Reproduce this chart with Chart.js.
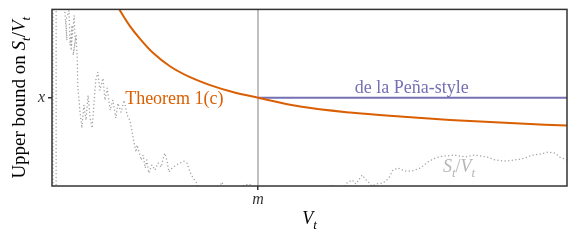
<!DOCTYPE html>
<html>
<head>
<meta charset="utf-8">
<script src="https://cdn.jsdelivr.net/npm/chart.js@4.4.0/dist/chart.umd.min.js"></script>
<style>
    html, body { margin: 0; padding: 0; background: #fff; }
</style>
</head>
<body>
<canvas id="bound-chart" width="575" height="240"></canvas>
<script>
// S_t / V_t sample path (dotted)
const walkV = [
    0.2, 0.2, 0.8, 0.8, 2.3, 2.5, 2.9, 2.7, 3.3, 3.5,
    3.9, 3.7, 4.3, 4.5, 4.1, 4.7, 4.9, 5.0, 5.4, 5.8,
    6.2, 6.6, 7.0, 7.4, 7.8, 8.2, 8.5, 8.9, 9.3, 9.9,
    10.3, 10.7, 11.3, 11.8, 12.4, 12.8, 13.4, 14.0, 14.6, 15.1,
    15.5, 15.9, 16.3, 16.5, 16.9, 17.3, 17.7, 18.1, 18.4, 18.8,
    19.4, 20.0, 20.6, 21.2, 21.6, 21.9, 22.3, 22.7, 23.3, 24.1,
    24.9, 25.6, 26.2, 26.8, 27.4, 28.0, 28.7, 31.1, 33.0, 33.8,
    34.6, 36.1, 37.3, 38.4, 39.4, 44.3, 50.1, 54.6, 55.3, 56.3,
    57.3, 58.3, 59.0, 60.2, 61.2, 62.1, 62.9, 64.3, 65.4, 66.2,
    67.2, 68.5, 69.9, 71.5, 73.0, 74.4, 75.9, 78.3, 80.2, 82.1,
    84.5, 86.0, 88.0, 89.9, 91.8, 93.2, 94.8, 96.3, 97.7, 98.6, 100
];
const walkS = [
    116, -8, -8, 116, 110.7, 98.3, 82.5, 93.8, 99.4, 79.7,
    91.0, 76.8, 96.6, 82.5, 74.0, 85.3, 71.2, 57.1, 42.9, 32.8,
    45.8, 37.3, 51.4, 38.4, 32.8, 48.6, 59.9, 64.4, 54.2, 61.0,
    48.6, 55.4, 42.9, 48.6, 38.4, 46.9, 41.8, 48.6, 40.1, 37.3,
    31.6, 24.9, 19.2, 23.2, 19.2, 14.7, 17.5, 10.2, 14.7, 7.3,
    11.9, 9.0, 13.0, 10.7, 15.8, 18.6, 14.7, 7.9, 10.2, 11.9,
    13.0, 14.1, 13.0, 7.9, 4.5, 2.3, -3.4, -7.9, 2.3, -3.4,
    0, -5.1, 0.6, 1.1, -3.4, -10.7, -7.9, 0.6, -2.3, -2.3,
    1.7, 3.4, 1.1, 6.2, 2.8, 0, 1.1, 1.7, 4.5, 9.0,
    10.2, 8.5, 8.5, 10.2, 13.6, 15.8, 16.9, 17.5, 16.4, 17.5,
    16.4, 14.7, 14.1, 14.7, 15.8, 17.5, 18.1, 19.2, 18.6, 16.4, 14.7
];

// Theorem 1(c) bound
const boundV = [12.2, 13.2, 15.1, 17.1, 19.6, 22.9, 26.8, 30.7, 35.1, 40, 48.2, 57.9, 67.6, 77.3, 87.0, 100];
const boundY = [104.5, 99.4, 90.7, 83.3, 75.4, 67.8, 61.6, 57.1, 53.2, 50, 45.0, 41.6, 39.3, 37.4, 35.9, 34.2];

// de la Pena-style bound (flat after m)
const penaV = [40, 100];
const penaY = [50, 50];

// vertical reference at m
const refV = [40, 40];
const refY = [-10, 110];

const xTicks = [40];
const xTickLabels = ['m'];
const yTicks = [50];
const yTickLabels = ['x'];

const serif = '"Liberation Serif", "DejaVu Serif", serif';

function toPoints(xs, ys) {
    return xs.map((v, i) => ({ x: v, y: ys[i] }));
}

function partFont(p, size) {
    return (p.it ? 'italic ' : '') + (p.sub ? Math.round(size * 0.7) : size) + 'px ' + serif;
}

// draws a run of text pieces (italic / subscript) on one baseline
function drawParts(c, parts, x, y, size, color, align) {
    let total = 0;
    parts.forEach(p => {
        c.font = partFont(p, size);
        p.w = c.measureText(p.t).width;
        total += p.w;
    });
    let cx = align === 'center' ? x - total / 2 : x;
    c.fillStyle = color;
    c.textBaseline = 'alphabetic';
    c.textAlign = 'left';
    parts.forEach(p => {
        c.font = partFont(p, size);
        c.fillText(p.t, cx, y + (p.sub ? size * 0.25 : 0));
        cx += p.w;
    });
}

const ratioParts = () => [
    { t: 'S', it: true }, { t: 't', it: true, sub: true },
    { t: '/' },
    { t: 'V', it: true }, { t: 't', it: true, sub: true }
];

const decorations = {
    id: 'decorations',
    afterDraw(chart) {
        const c = chart.ctx;
        const a = chart.chartArea;
        const xs = chart.scales.x;
        const ys = chart.scales.y;
        c.save();

        // frame
        c.strokeStyle = '#333';
        c.lineWidth = 1.5;
        c.strokeRect(a.left, a.top, a.right - a.left, a.bottom - a.top);

        // line labels
        drawParts(c, [{ t: 'Theorem 1(c)' }], xs.getPixelForValue(14.2), ys.getPixelForValue(46.3), 18, '#d95f02', 'left');
        drawParts(c, [{ t: 'de la Peña-style' }], xs.getPixelForValue(58.8), ys.getPixelForValue(52.5), 18, '#7570b3', 'left');
        drawParts(c, ratioParts(), xs.getPixelForValue(75.9), ys.getPixelForValue(7.9), 18, '#b5b5b5', 'left');

        // axis titles
        drawParts(c, [{ t: 'V', it: true }, { t: 't', it: true, sub: true }], (a.left + a.right) / 2, 224, 18, '#000', 'center');

        c.translate(25, (a.top + a.bottom) / 2);
        c.rotate(-Math.PI / 2);
        drawParts(c, [{ t: 'Upper bound on ' }].concat(ratioParts()), 0, 0, 19, '#000', 'center');
        c.restore();
    }
};

new Chart(document.getElementById('bound-chart'), {
    type: 'line',
    data: {
        datasets: [
            {
                data: toPoints(refV, refY),
                borderColor: '#c0c0c0',
                borderWidth: 2,
                order: 4
            },
            {
                data: toPoints(walkV, walkS),
                borderColor: '#a3a3a3',
                borderWidth: 1.5,
                borderDash: [0, 3.6],
                borderCapStyle: 'round',
                order: 3
            },
            {
                data: toPoints(penaV, penaY),
                borderColor: '#7570b3',
                borderWidth: 2,
                order: 2
            },
            {
                data: toPoints(boundV, boundY),
                borderColor: '#d95f02',
                borderWidth: 2,
                cubicInterpolationMode: 'monotone',
                order: 1
            }
        ]
    },
    options: {
        responsive: false,
        animation: false,
        layout: { padding: { top: 9, right: 8, left: 0, bottom: 0 } },
        elements: { point: { radius: 0 } },
        plugins: {
            legend: { display: false },
            tooltip: { enabled: false }
        },
        scales: {
            x: {
                type: 'linear',
                min: 0,
                max: 100,
                afterBuildTicks: axis => { axis.ticks = xTicks.map(v => ({ value: v })); },
                afterFit: axis => { axis.height = 54; },
                ticks: {
                    callback: (v, i) => xTickLabels[i],
                    font: { family: serif, size: 16, style: 'italic', lineHeight: 0.8 },
                    color: '#333',
                    padding: 3,
                    maxRotation: 0,
                    autoSkip: false
                },
                grid: { drawOnChartArea: false, drawTicks: true, tickLength: 4, color: '#333', lineWidth: 1.5 },
                border: { display: false }
            },
            y: {
                type: 'linear',
                min: 0,
                max: 100,
                afterBuildTicks: axis => { axis.ticks = yTicks.map(v => ({ value: v })); },
                afterFit: axis => { axis.width = 52; },
                ticks: {
                    callback: (v, i) => yTickLabels[i],
                    font: { family: serif, size: 16, style: 'italic', lineHeight: 0.8 },
                    color: '#333',
                    padding: 3,
                    autoSkip: false
                },
                grid: { drawOnChartArea: false, drawTicks: true, tickLength: 4, color: '#333', lineWidth: 1.5 },
                border: { display: false }
            }
        }
    },
    plugins: [decorations]
});
</script>
</body>
</html>
